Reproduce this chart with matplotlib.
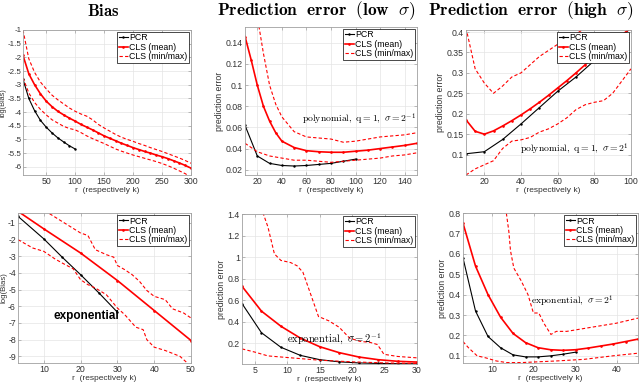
import matplotlib
matplotlib.use('Agg')
import matplotlib.pyplot as plt

plt.rcParams['font.family'] = ['Liberation Sans', 'DejaVu Sans']
plt.rcParams['mathtext.fontset'] = 'cm'

# top left: bias, polynomial
r_tl = list(range(10, 301, 10))
cls_tl = [-1.93, -2.6, -3.0, -3.33, -3.6, -3.8, -3.97, -4.1, -4.22, -4.33, -4.45, -4.55, -4.65, -4.76, -4.87,
          -4.96, -5.05, -5.14, -5.22, -5.3, -5.37, -5.44, -5.5, -5.57, -5.63, -5.7, -5.78, -5.86, -5.95, -6.05]
max_tl = [-1.0, -2.05, -2.55, -2.9, -3.15, -3.38, -3.55, -3.7, -3.85, -3.97, -4.07, -4.15, -4.28, -4.45, -4.58,
          -4.7, -4.82, -4.92, -5.0, -5.07, -5.15, -5.22, -5.3, -5.37, -5.44, -5.52, -5.6, -5.68, -5.77, -5.87]
min_tl = [-2.75, -3.3, -3.65, -3.9, -4.1, -4.28, -4.4, -4.52, -4.6, -4.65, -4.75, -4.87, -4.97, -5.06, -5.15,
          -5.25, -5.35, -5.43, -5.5, -5.57, -5.63, -5.69, -5.75, -5.81, -5.88, -5.96, -6.05, -6.15, -6.25, -6.38]
r_pcr_tl = list(range(10, 101, 10))
pcr_tl = [-2.8, -3.5, -3.95, -4.3, -4.55, -4.76, -4.94, -5.09, -5.23, -5.35]

# top middle: prediction error low sigma, polynomial
r_tm = [10, 15, 20, 25, 30, 35, 40, 50, 60, 70, 80, 90, 100, 110, 120, 130, 140, 150]
cls_tm = [0.146, 0.124, 0.100, 0.080, 0.066, 0.055, 0.047, 0.041, 0.038, 0.037, 0.0365, 0.0365, 0.0375,
          0.0385, 0.040, 0.0415, 0.043, 0.045]
max_tm = [0.22, 0.19, 0.165, 0.13, 0.1, 0.082, 0.07, 0.056, 0.051, 0.05, 0.049, 0.046, 0.047, 0.049, 0.051,
          0.052, 0.053, 0.055]
min_tm = [0.045, 0.041, 0.037, 0.035, 0.033, 0.032, 0.031, 0.029, 0.029, 0.028, 0.027, 0.028, 0.029, 0.030,
          0.031, 0.033, 0.034, 0.036]
r_pcr_tm = list(range(10, 101, 10))
pcr_tm = [0.062, 0.033, 0.026, 0.024, 0.0235, 0.024, 0.025, 0.026, 0.028, 0.030]

# top right: prediction error high sigma, polynomial
r_tr = list(range(10, 101, 5))
cls_tr = [0.185, 0.157, 0.150, 0.158, 0.17, 0.183, 0.197, 0.212, 0.228, 0.245, 0.263, 0.281, 0.3, 0.32, 0.34,
          0.358, 0.375, 0.393, 0.41]
max_tr = [0.41, 0.31, 0.275, 0.25, 0.268, 0.29, 0.3, 0.32, 0.34, 0.355, 0.37, 0.385, 0.395, 0.41, 0.42,
          0.43, 0.43, 0.415, 0.405]
min_tr = [0.05, 0.065, 0.075, 0.085, 0.115, 0.133, 0.136, 0.142, 0.155, 0.163, 0.175, 0.19, 0.21, 0.222,
          0.228, 0.232, 0.25, 0.28, 0.31]
r_pcr_tr = list(range(10, 101, 10))
pcr_tr = [0.102, 0.107, 0.137, 0.175, 0.215, 0.255, 0.29, 0.33, 0.37, 0.41]

# bottom left: bias, exponential
r_bl = [3, 10, 20, 30, 40, 50]
cls_bl = [-0.3, -1.35, -2.8, -4.45, -6.25, -8.05]
r_max_bl = [9, 12, 16, 20, 22, 24, 27, 29, 30, 32, 34, 36, 38, 40, 43, 45, 48, 50]
max_bl = [-0.1, -0.5, -1.05, -1.6, -1.75, -2.6, -2.9, -3.05, -3.55, -3.8, -4.1, -4.5, -5.05, -5.4, -5.6,
          -6.15, -6.4, -6.7]
r_min_bl = [3, 7, 10, 13, 15, 18, 20, 22, 24, 27, 30, 32, 35, 37, 38, 40, 43, 47, 49, 50]
min_bl = [-2.0, -2.5, -2.7, -3.15, -3.4, -3.75, -4.4, -4.7, -4.9, -5.3, -6.1, -6.5, -7.25, -7.4, -8.0, -8.45,
          -8.65, -9.0, -9.4, -9.6]
r_pcr_bl = [3, 10, 15, 20, 25, 30]
pcr_bl = [-0.6, -1.95, -3.05, -4.1, -5.2, -6.35]

# bottom middle: prediction error low sigma, exponential
r_bm = list(range(3, 31, 3))
cls_bm = [0.73, 0.5, 0.36, 0.25, 0.17, 0.115, 0.075, 0.05, 0.035, 0.028]
pcr_bm = [0.57, 0.3, 0.165, 0.09, 0.05, 0.03, 0.02, 0.015, 0.013, 0.012]
r_max_bm = [3, 5, 6.3, 7, 8, 9, 10.5, 11.5, 12.4, 13.4, 14.8, 16.4, 18, 19.6, 21.2, 22.8, 23.9, 24.9, 27, 30]
max_bm = [2.0, 1.6, 1.4, 1.28, 1.03, 0.97, 0.95, 0.92, 0.86, 0.69, 0.45, 0.41, 0.35, 0.25, 0.22, 0.21, 0.19,
          0.1, 0.08, 0.067]
r_min_bm = [3, 5, 7, 10, 15, 20, 25, 30]
min_bm = [0.15, 0.12, 0.085, 0.07, 0.045, 0.03, 0.02, 0.015]

# bottom right: prediction error high sigma, exponential
r_br = list(range(3, 46, 3))
cls_br = [0.75, 0.54, 0.4, 0.29, 0.21, 0.165, 0.14, 0.13, 0.127, 0.13, 0.138, 0.148, 0.158, 0.17, 0.182]
r_pcr_br = list(range(3, 31, 3))
pcr_br = [0.58, 0.32, 0.195, 0.14, 0.105, 0.095, 0.095, 0.1, 0.108, 0.118]
r_max_br = [12.5, 13.4, 14, 14.4, 15.2, 16.9, 18.6, 19.9, 21.2, 22.4, 24.1, 25.4, 27.9, 33.8, 39.8, 45]
max_br = [0.85, 0.8, 0.71, 0.615, 0.53, 0.47, 0.4, 0.31, 0.31, 0.26, 0.205, 0.22, 0.22, 0.24, 0.26, 0.285]
r_min_br = [3, 4.3, 6.4, 8.5, 11, 13.5, 17, 25.4, 32.1, 38.9, 45]
min_br = [0.17, 0.14, 0.1, 0.09, 0.075, 0.067, 0.067, 0.075, 0.083, 0.1, 0.113]

fig = plt.figure(figsize=(6.4, 3.82), dpi=100)
W, H = 640.0, 382.0


def make_ax(l, t, r, b):
    ax = fig.add_axes([l / W, 1 - b / H, (r - l) / W, (b - t) / H])
    for s in ax.spines.values():
        s.set_color('#a0a0a0')
        s.set_linewidth(0.6)
    ax.tick_params(direction='in', length=2, width=0.5, color='#a0a0a0', labelsize=6.3,
                   labelcolor='#333333', pad=1.5, top=True, right=True)
    ax.grid(True, color='#e4e4e4', linewidth=0.5)
    ax.set_axisbelow(True)
    return ax


def draw(ax, rp, pcr, rc, cls, rmax, mx, rmin, mn):
    ax.plot(rp, pcr, color='black', lw=0.8, marker='.', ms=1.5, label='PCR')
    ax.plot(rc, cls, color='red', lw=1.2, marker='.', ms=1.8, label='CLS (mean)')
    ax.plot(rmax, mx, color='red', lw=0.8, ls=(0, (3, 2)), label='CLS (min/max)')
    ax.plot(rmin, mn, color='red', lw=0.8, ls=(0, (3, 2)))
    leg = ax.legend(loc='upper right', fontsize=6.3, handlelength=1.0, handletextpad=0.2,
                    borderpad=0.15, labelspacing=0.05, borderaxespad=0.25, fancybox=False,
                    framealpha=1, edgecolor='black')
    leg.get_frame().set_linewidth(0.5)


def labels(ax, ylab, fs=6.3):
    ax.set_ylabel(ylab, fontsize=fs, color='#333333', labelpad=1)
    ax.set_xlabel('r  (respectively k)', fontsize=6, color='#333333', labelpad=1)


ax1 = make_ax(23, 30, 191, 175)
draw(ax1, r_pcr_tl, pcr_tl, r_tl, cls_tl, r_tl, max_tl, r_tl, min_tl)
ax1.set_xlim(10, 300)
ax1.set_ylim(-6.3, -1)
ax1.set_xticks([50, 100, 150, 200, 250, 300])
ax1.set_yticks([-1, -1.5, -2, -2.5, -3, -3.5, -4, -4.5, -5, -5.5, -6])
ax1.set_yticklabels(['-1', '-1.5', '-2', '-2.5', '-3', '-3.5', '-4', '-4.5', '-5', '-5.5', '-6'])
ax1.tick_params(axis='y', labelsize=5.8, pad=1)
labels(ax1, 'log(Bias)', 5.2)
ax1.yaxis.set_label_coords(-16.5 / 168, 0.5)

ax2 = make_ax(245, 27, 417, 175)
draw(ax2, r_pcr_tm, pcr_tm, r_tm, cls_tm, r_tm, max_tm, r_tm, min_tm)
ax2.set_xlim(10, 150)
ax2.set_ylim(0.015, 0.155)
ax2.set_xticks(range(20, 141, 20))
ax2.set_yticks([0.02, 0.04, 0.06, 0.08, 0.1, 0.12, 0.14])
ax2.set_yticklabels(['0.02', '0.04', '0.06', '0.08', '0.1', '0.12', '0.14'])
labels(ax2, 'prediction error')
ax2.text(103, 0.068, r'$\mathrm{polynomial,\ q{=}1,}\ \sigma = 2^{-1}$', fontsize=7, ha='center', va='center')

ax3 = make_ax(466, 30, 631, 175)
draw(ax3, r_pcr_tr, pcr_tr, r_tr, cls_tr, r_tr, max_tr, r_tr, min_tr)
ax3.set_xlim(10, 100)
ax3.set_ylim(0.05, 0.405)
ax3.set_xticks([20, 40, 60, 80, 100])
ax3.set_yticks([0.1, 0.15, 0.2, 0.25, 0.3, 0.35, 0.4])
ax3.set_yticklabels(['0.1', '0.15', '0.2', '0.25', '0.3', '0.35', '0.4'])
labels(ax3, 'prediction error')
ax3.text(69, 0.113, r'$\mathrm{polynomial,\ q{=}1,}\ \sigma = 2^{1}$', fontsize=7, ha='center', va='center')

ax4 = make_ax(18, 213, 191, 363)
draw(ax4, r_pcr_bl, pcr_bl, r_bl, cls_bl, r_max_bl, max_bl, r_min_bl, min_bl)
ax4.set_xlim(3, 50)
ax4.set_ylim(-9.4, -0.4)
ax4.set_xticks([10, 20, 30, 40, 50])
ax4.set_yticks(range(-9, 0))
ax4.set_yticklabels([str(v) for v in range(-9, 0)])
labels(ax4, 'log(Bias)', 5.6)
ax4.yaxis.set_label_coords(-10 / 173, 0.5)
ax4.text(21.5, -6.6, 'exponential', fontsize=8.5, fontweight='bold', ha='center', va='center')

ax5 = make_ax(242, 214, 417, 364)
draw(ax5, r_bm, pcr_bm, r_bm, cls_bm, r_max_bm, max_bm, r_min_bm, min_bm)
ax5.set_xlim(3, 30)
ax5.set_ylim(0.01, 1.4)
ax5.set_xticks([5, 10, 15, 20, 25, 30])
ax5.set_yticks([0.2, 0.4, 0.6, 0.8, 1, 1.2, 1.4])
ax5.set_yticklabels(['0.2', '0.4', '0.6', '0.8', '1', '1.2', '1.4'])
labels(ax5, 'prediction error')
ax5.text(17.2, 0.25, r'$\mathrm{exponential,}\ \sigma = 2^{-1}$', fontsize=7.5, ha='center', va='center')

ax6 = make_ax(463, 213, 638, 363)
draw(ax6, r_pcr_br, pcr_br, r_br, cls_br, r_max_br, max_br, r_min_br, min_br)
ax6.set_xlim(3, 45)
ax6.set_ylim(0.065, 0.8)
ax6.set_xticks([10, 20, 30, 40])
ax6.set_yticks([0.1, 0.2, 0.3, 0.4, 0.5, 0.6, 0.7, 0.8])
ax6.set_yticklabels(['0.1', '0.2', '0.3', '0.4', '0.5', '0.6', '0.7', '0.8'])
labels(ax6, 'prediction error')
ax6.text(29.2, 0.37, r'$\mathrm{exponential,}\ \sigma = 2^{1}$', fontsize=7, ha='center', va='center')

fig.text(103 / W, 1 - 11 / H, r'$\mathbf{Bias}$', fontsize=12, ha='center', va='center')
fig.text(316 / W, 1 - 11 / H, r'$\mathbf{Prediction\ \ error\ \ (low}\ \ \sigma\mathbf{)}$', fontsize=12.5,
         ha='center', va='center')
fig.text(531 / W, 1 - 11 / H, r'$\mathbf{Prediction\ \ error\ \ (high}\ \ \sigma\mathbf{)}$', fontsize=12.5,
         ha='center', va='center')

fig.savefig('out.png', dpi=100)
